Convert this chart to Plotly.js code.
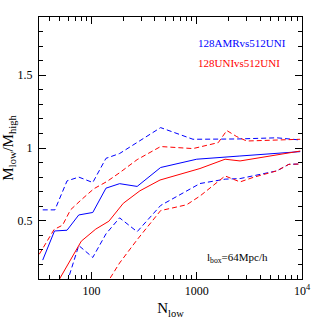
<!DOCTYPE html>
<html>
<head>
<meta charset="utf-8">
<script src="https://cdn.plot.ly/plotly-3.0.1.min.js"></script>
<style>html,body{margin:0;padding:0;background:#fff;}</style>
</head>
<body>
<div id="chart" style="width:319px;height:319px;"></div>
<script>
// 128AMR vs 512UNI
const amrMedianN = [34.3, 44.4, 58.4, 75.5, 102.6, 137, 184.5, 271, 453, 998, 2570, 9620];
const amrMedian  = [0.23, 0.43, 0.435, 0.54, 0.557, 0.724, 0.755, 0.736, 0.866, 0.923, 0.945, 0.975];
const amrUpperN  = [34.3, 44.8, 58.4, 75.5, 102.6, 137, 184.5, 453, 920, 2400, 5770, 9620];
const amrUpper   = [0.575, 0.575, 0.774, 0.80, 0.763, 0.929, 0.962, 1.14, 1.06, 1.062, 1.07, 1.055];
const amrLowerN  = [58.4, 75.5, 102.6, 137, 184.5, 271, 453, 1072, 1860, 2577, 5770, 7500, 9620];
const amrLower   = [0.075, 0.33, 0.248, 0.41, 0.52, 0.425, 0.605, 0.756, 0.786, 0.79, 0.843, 0.888, 0.89];
// 128UNI vs 512UNI
const uniMedianN = [44.4, 79.8, 109.6, 146, 200, 288, 447, 801, 1072, 1858, 2577, 9620];
const uniMedian  = [0.04, 0.36, 0.443, 0.497, 0.62, 0.706, 0.78, 0.836, 0.859, 0.923, 0.911, 0.979];
const uniUpperN  = [31.8, 44, 53, 63, 80, 105, 140, 184.5, 271, 453, 920, 1600, 1928, 2400, 2985, 9620];
const uniUpper   = [0.27, 0.44, 0.47, 0.575, 0.645, 0.72, 0.77, 0.83, 0.92, 1.01, 0.996, 1.037, 1.12, 1.078, 1.048, 1.06];
const uniLowerN  = [137, 184.5, 271, 453, 801, 1072, 1858, 2577, 3500, 5770, 7500, 9620];
const uniLower   = [0.06, 0.21, 0.37, 0.57, 0.61, 0.67, 0.808, 0.767, 0.80, 0.843, 0.888, 0.89];

const xTickVals = [100, 1000, 10000];
const xTickText = ['100', '1000', '10<sup>4</sup>'];
const xMinorVals = [40,50,60,70,80,90,200,300,400,500,600,700,800,900,2000,3000,4000,5000,6000,7000,8000,9000];
const yTickVals = [0.5, 1, 1.5];
const yTickText = ['0.5', '1', '1.5'];
const yMinorVals = [0.2,0.3,0.4,0.6,0.7,0.8,0.9,1.1,1.2,1.3,1.4,1.6,1.7,1.8];

const labels = ['128AMRvs512UNI', '128UNIvs512UNI', 'l<sub>box</sub>=64Mpc/h'];

const BLUE = '#0000ff', RED = '#ff0000', DASH = '5px,3px';
function tr(x, y, color, dash) {
  return {x: x, y: y, type: 'scatter', mode: 'lines', hoverinfo: 'skip',
          line: {color: color, width: 1, dash: dash}};
}
const data = [
  tr(amrMedianN, amrMedian, BLUE, 'solid'),
  tr(amrUpperN, amrUpper, BLUE, DASH),
  tr(amrLowerN, amrLower, BLUE, DASH),
  tr(uniMedianN, uniMedian, RED, 'solid'),
  tr(uniUpperN, uniUpper, RED, DASH),
  tr(uniLowerN, uniLower, RED, DASH)
];

const axisCommon = {
  showgrid: false, zeroline: false, showline: true, linecolor: 'black', linewidth: 1,
  mirror: 'ticks', ticks: 'inside', ticklen: 7, tickwidth: 1, tickcolor: 'black',
  tickmode: 'array', tickfont: {size: 12, color: 'black'}, ticklabelstandoff: 3
};

const layout = {
  width: 319, height: 319,
  margin: {l: 39, r: 17, t: 17, b: 40, pad: 0},
  paper_bgcolor: 'white', plot_bgcolor: 'white',
  showlegend: false,
  font: {family: '"Liberation Serif", "DejaVu Serif", serif', color: 'black', size: 12},
  xaxis: Object.assign({}, axisCommon, {
    type: 'log', range: [1.5, 4],
    tickvals: xTickVals, ticktext: xTickText, ticklabelstandoff: 1,
    minor: {ticks: 'inside', ticklen: 4, tickwidth: 1, tickcolor: 'black', tickvals: xMinorVals, showgrid: false},
    title: {text: 'N<sub>low</sub>', font: {size: 15}, standoff: 5}
  }),
  yaxis: Object.assign({}, axisCommon, {
    range: [0.1, 1.9],
    tickvals: yTickVals, ticktext: yTickText,
    minor: {ticks: 'inside', ticklen: 4, tickwidth: 1, tickcolor: 'black', tickvals: yMinorVals, showgrid: false},
    title: {text: 'M<sub>low</sub>/M<sub>high</sub>', font: {size: 15}, standoff: 6}
  }),
  annotations: [
    {text: labels[0], xref: 'paper', yref: 'paper', x: 0.596, y: 0.901, xanchor: 'left', yanchor: 'middle', showarrow: false, font: {size: 11, color: BLUE}},
    {text: labels[1], xref: 'paper', yref: 'paper', x: 0.596, y: 0.826, xanchor: 'left', yanchor: 'middle', showarrow: false, font: {size: 11, color: RED}},
    {text: labels[2], xref: 'paper', yref: 'paper', x: 0.631, y: 0.081, xanchor: 'left', yanchor: 'middle', showarrow: false, font: {size: 11, color: 'black'}}
  ]
};

Plotly.newPlot('chart', data, layout, {staticPlot: true, displayModeBar: false});
</script>
</body>
</html>
